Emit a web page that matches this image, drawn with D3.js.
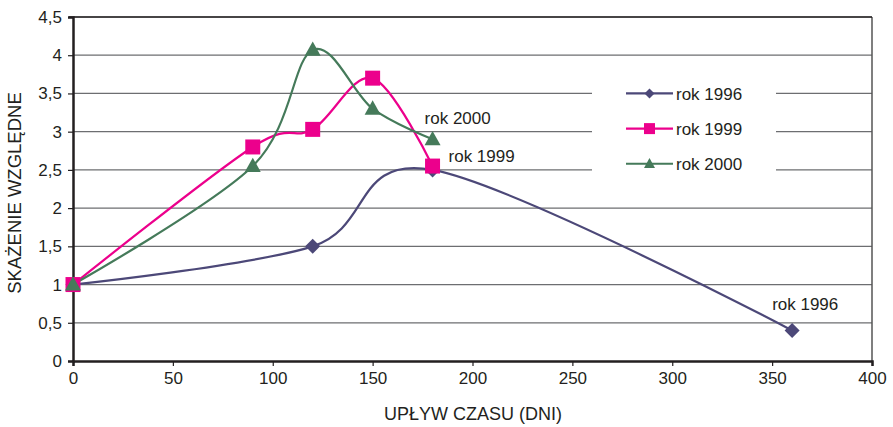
<!DOCTYPE html>
<html>
<head>
<meta charset="utf-8">
<script src="https://cdn.jsdelivr.net/npm/d3@7"></script>
<style>
  body { margin: 0; background: #fff; }
  text { font-family: "Liberation Sans", Arial, sans-serif; fill: #231f20; }
</style>
</head>
<body>
<svg id="chart" width="893" height="427"></svg>
<script>
const xTicks = [0, 50, 100, 150, 200, 250, 300, 350, 400];
const yTicks = [0, 0.5, 1, 1.5, 2, 2.5, 3, 3.5, 4, 4.5];

const days1996 = [0, 120, 180, 360];
const vals1996 = [1, 1.5, 2.5, 0.4];
const days1999 = [0, 90, 120, 150, 180];
const vals1999 = [1, 2.8, 3.03, 3.7, 2.55];
const days2000 = [0, 90, 120, 150, 180];
const vals2000 = [1, 2.55, 4.07, 3.3, 2.9];

const seriesNames = ["rok 1996", "rok 1999", "rok 2000"];
const seriesColors = ["#4c4878", "#ec008c", "#457a5a"];

const svg = d3.select("#chart");
const margin = { left: 73, right: 21, top: 17, bottom: 66 };
const W = 893, H = 427;

const x = d3.scaleLinear().domain([0, 400]).range([margin.left, W - margin.right]);
const y = d3.scaleLinear().domain([0, 4.5]).range([H - margin.bottom, margin.top]);

// gridlines
svg.append("g").selectAll("line")
    .data(yTicks.filter(d => d > 0))
    .enter().append("line")
    .attr("x1", x(0)).attr("x2", x(400))
    .attr("y1", d => y(d)).attr("y2", d => y(d))
    .attr("stroke", "#6d6e71").attr("stroke-width", 1.2);

// right border
svg.append("line")
    .attr("x1", x(400)).attr("x2", x(400))
    .attr("y1", y(0)).attr("y2", y(4.5))
    .attr("stroke", "#555").attr("stroke-width", 1.5);

const fmt = d => String(d).replace(".", ",");

const xAxis = svg.append("g")
    .attr("transform", `translate(0,${y(0)})`)
    .call(d3.axisBottom(x).tickValues(xTicks).tickSize(5).tickPadding(6));
const yAxis = svg.append("g")
    .attr("transform", `translate(${x(0)},0)`)
    .call(d3.axisLeft(y).tickValues(yTicks).tickFormat(fmt).tickSize(5).tickPadding(6));

[xAxis, yAxis].forEach(g => {
    g.select(".domain").attr("stroke", "#231f20").attr("stroke-width", 2.5);
    g.selectAll(".tick line").attr("stroke", "#231f20").attr("stroke-width", 1.2);
    g.selectAll(".tick text").style("font-size", "17px")
        .style("font-family", "'Liberation Sans', Arial, sans-serif").attr("fill", "#231f20");
});
// top border
svg.append("line")
    .attr("x1", x(0) - 4).attr("x2", x(400))
    .attr("y1", y(4.5)).attr("y2", y(4.5))
    .attr("stroke", "#231f20").attr("stroke-width", 1.5);

const series = [
    { days: days1996, vals: vals1996 },
    { days: days1999, vals: vals1999 },
    { days: days2000, vals: vals2000 }
];

// marker shapes: diamond, square, triangle
function marker(i, s) {
    if (i === 0) return `M0,${-s}L${s},0L0,${s}L${-s},0Z`;
    if (i === 1) return `M${-s},${-s}H${s}V${s}H${-s}Z`;
    return `M0,${-s * 1.05}L${s},${s * 0.75}H${-s}Z`;
}
const markerSize = [7.5, 7.5, 8];
const legendSize = [5, 5.5, 5.5];

const line = d3.line()
    .x(d => x(d[0])).y(d => y(d[1]))
    .curve(d3.curveCardinal.tension(0));

const plot = svg.append("g");
series.forEach((s, i) => {
    const pts = s.days.map((d, j) => [d, s.vals[j]]);
    plot.append("path")
        .datum(pts)
        .attr("d", line)
        .attr("fill", "none")
        .attr("stroke", seriesColors[i])
        .attr("stroke-width", 2.2);
});
series.forEach((s, i) => {
    const pts = s.days.map((d, j) => [d, s.vals[j]]);
    plot.selectAll(null)
        .data(pts)
        .enter().append("path")
        .attr("d", marker(i, markerSize[i]))
        .attr("transform", d => `translate(${x(d[0])},${y(d[1])})`)
        .attr("fill", seriesColors[i]);
});

// point labels
const pointLabels = [
    { text: "rok 2000", d: 176, v: 3.1 },
    { text: "rok 1999", d: 188, v: 2.6 },
    { text: "rok 1996", d: 350, v: 0.67 }
];
svg.selectAll(".plabel")
    .data(pointLabels)
    .enter().append("text")
    .attr("class", "plabel")
    .attr("x", d => x(d.d)).attr("y", d => y(d.v))
    .style("font-size", "17px")
    .text(d => d.text);

// legend
const lg = svg.append("g");
lg.append("rect")
    .attr("x", 592).attr("y", 70).attr("width", 184).attr("height", 112)
    .attr("fill", "#fff");
seriesNames.forEach((name, i) => {
    const g = lg.append("g").attr("transform", `translate(0,${y(3.5 - i * 0.46)})`);
    g.append("line").attr("x1", 626).attr("x2", 673)
        .attr("stroke", seriesColors[i]).attr("stroke-width", 2.2);
    g.append("path")
        .attr("d", marker(i, legendSize[i]))
        .attr("transform", "translate(649.5,0)")
        .attr("fill", seriesColors[i]);
    g.append("text").attr("x", 676).attr("y", 6.5)
        .style("font-size", "17px").text(name);
});

// axis titles
svg.append("text")
    .attr("x", 473).attr("y", 420)
    .attr("text-anchor", "middle")
    .style("font-size", "18px")
    .text("UPŁYW CZASU (DNI)");
svg.append("text")
    .attr("transform", "translate(21,193) rotate(-90)")
    .attr("text-anchor", "middle")
    .style("font-size", "18.5px")
    .text("SKAŻENIE WZGLĘDNE");
</script>
</body>
</html>
